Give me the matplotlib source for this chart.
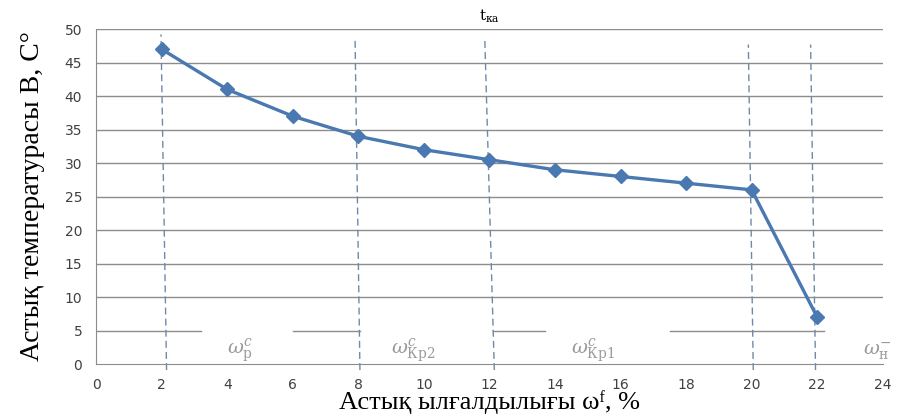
import numpy as np
import matplotlib.pyplot as plt

# moisture (%) and grain temperature (C)
moisture = [2, 4, 6, 8, 10, 12, 14, 16, 18, 20, 22]
temperature = [47, 41, 37, 34, 32, 30.5, 29, 28, 27, 26, 7]

# zone boundaries (dashed lines): bottom x, top x, top y
bound_x_bot = [2.15, 8.05, 12.15, 20.05, 21.95]
bound_x_top = [1.98, 7.9, 11.86, 19.9, 21.8]
bound_y_top = [49.2, 48.8, 48.4, 47.7, 47.7]

zone_labels = [r'$\omega^{c}_{\mathrm{р}}$', r'$\omega^{c}_{\mathrm{Кр2}}$',
               r'$\omega^{c}_{\mathrm{Кр1}}$', r'$\omega^{-}_{\mathrm{н}}$']
zone_x = [4.0, 9.0, 14.5, 23.4]

# pieces of the 5-degree grid line left between the zone labels
grid5_pieces = [(0, 3.2), (6.0, 8.05), (12.1, 13.7), (17.5, 22.2)]

plt.rcParams['mathtext.fontset'] = 'dejavuserif'

fig = plt.figure(figsize=(8.98, 4.16), dpi=100)
ax = fig.add_axes([0.107, 0.125, 0.876, 0.805])

blue = '#4a78b0'
grey = '#8c8c8c'

for y in range(10, 55, 5):
    ax.axhline(y, color=grey, lw=1.0, zorder=1)
for a, b in grid5_pieces:
    ax.plot([a, b], [5, 5], color=grey, lw=1.0, zorder=1)

for xb, xt, yt in zip(bound_x_bot, bound_x_top, bound_y_top):
    ax.plot([xb, xt], [-0.9, yt], color='#6f8aa8', lw=1.0, ls=(0, (5, 3)),
            zorder=2, clip_on=False)

ax.plot(moisture, temperature, color=blue, lw=2.4, marker='D', ms=7,
        zorder=3)

for lab, x in zip(zone_labels, zone_x):
    ax.text(x, 1.9, lab, fontsize=14, color='#9a9a9a', ha='left', va='center',
            zorder=4, clip_on=False)

ax.set_xlim(0, 24)
ax.set_ylim(0, 50)
ax.set_xticks(np.arange(0, 25, 2))
ax.set_yticks(np.arange(0, 51, 5))
ax.tick_params(length=0, labelsize=10, colors='#404040', pad=10)
ax.tick_params(axis='y', pad=10)

for s in ['top', 'right']:
    ax.spines[s].set_visible(False)
ax.spines['left'].set_color(grey)
ax.spines['bottom'].set_color(grey)

ax.set_title('t$_{\\mathrm{к а}}$', fontsize=11, family='DejaVu Serif', pad=6)
ax.set_xlabel('Астық ылғалдылығы ωᶠ, %', fontsize=19,
              family='Liberation Serif', labelpad=-1)
ax.set_ylabel('Астық температурасы В, С°', fontsize=20,
              family='Liberation Serif', labelpad=14)

fig.savefig('out.png', dpi=100)
